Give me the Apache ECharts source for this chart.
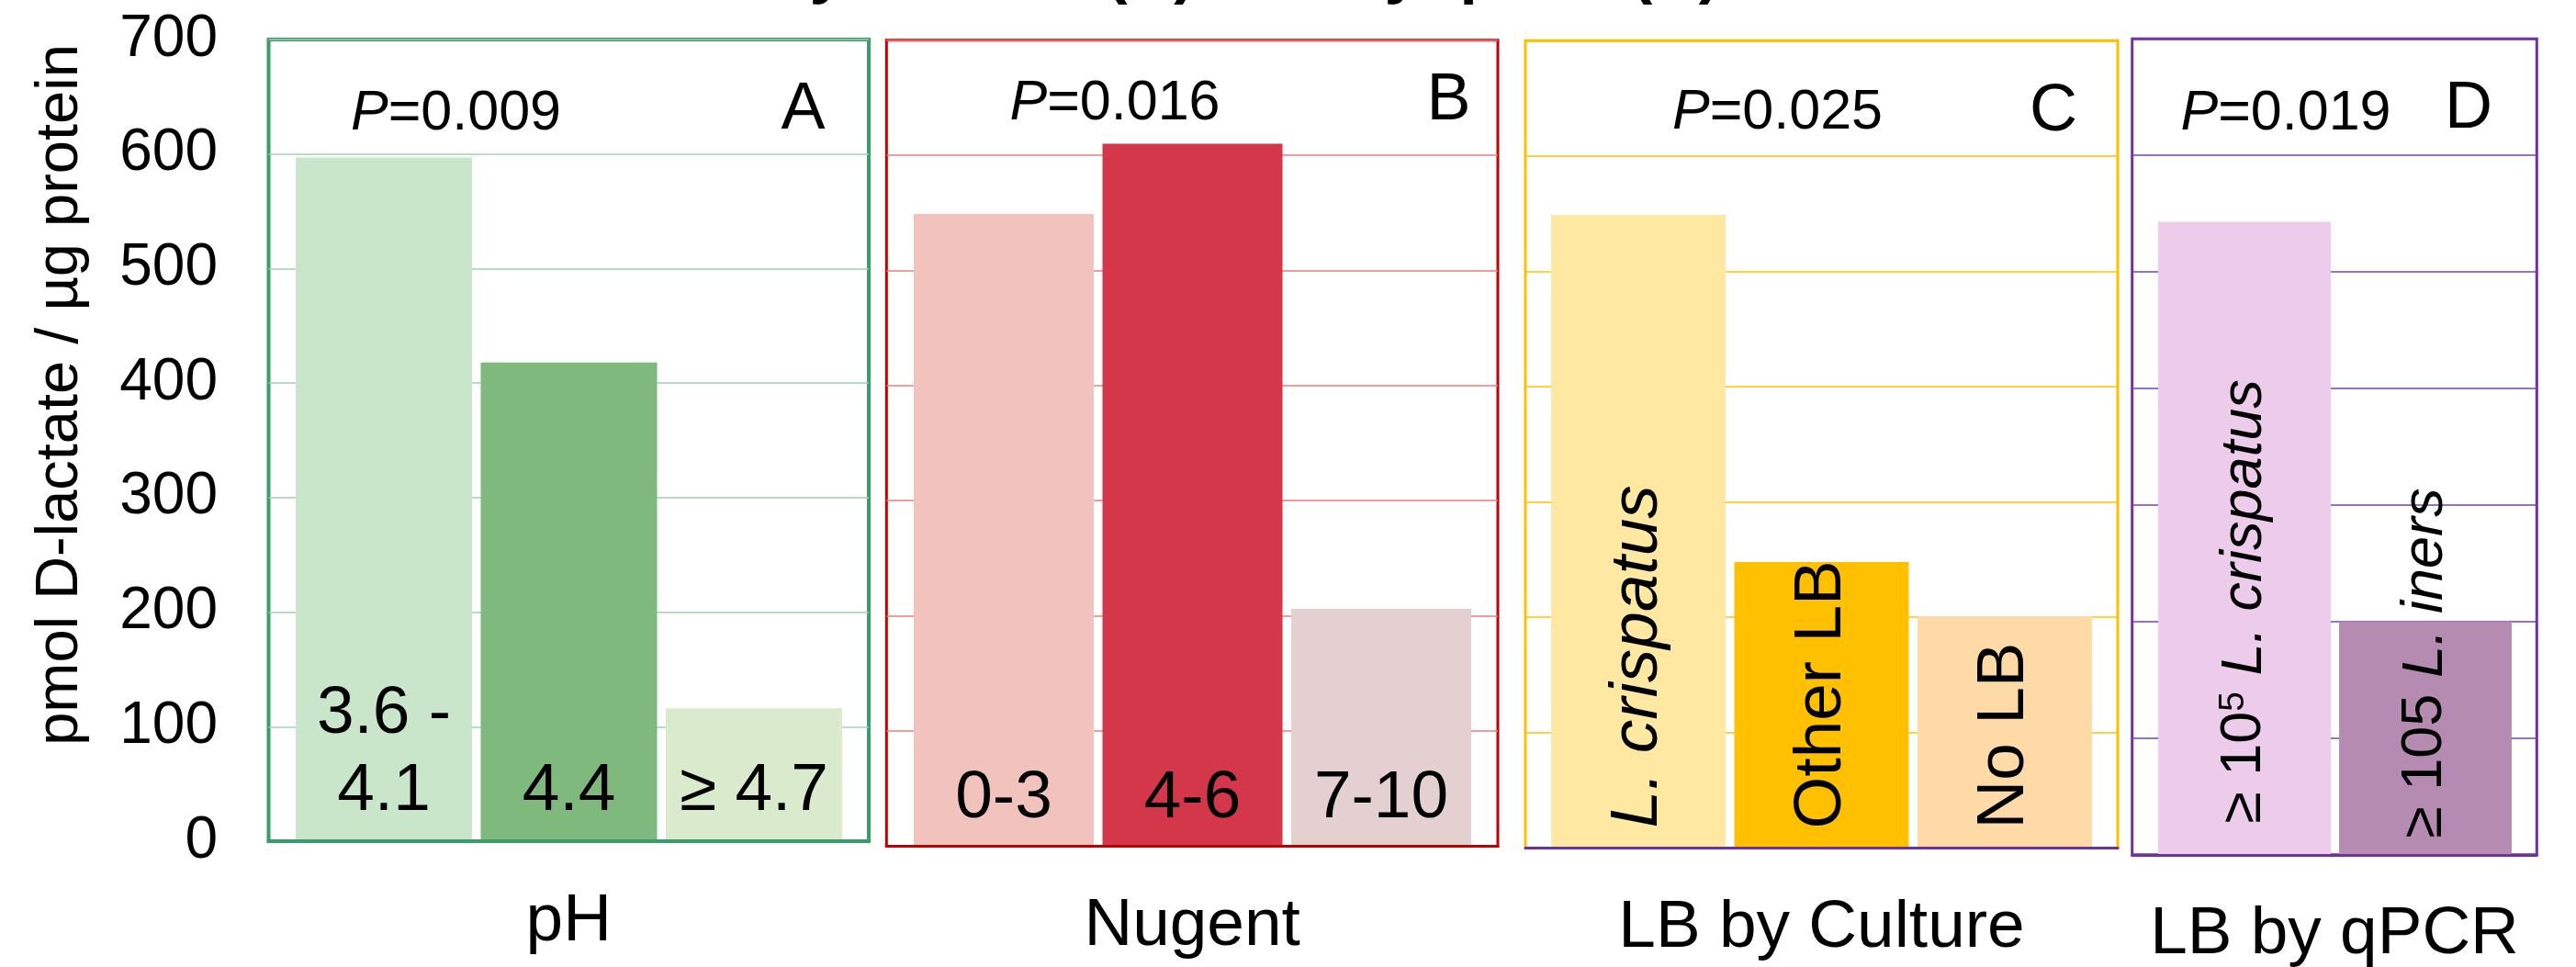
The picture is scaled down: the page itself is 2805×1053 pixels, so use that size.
<!DOCTYPE html>
<html>
<head>
<meta charset="utf-8">
<script src="https://cdn.jsdelivr.net/npm/echarts@6/dist/echarts.min.js"></script>
<style>
html,body{margin:0;padding:0;background:#ffffff;}
#chart{width:2805px;height:1053px;}
</style>
</head>
<body>
<div id="chart"></div>
<script>
// ---------------- DATA ----------------
const yTicks = [0, 100, 200, 300, 400, 500, 600, 700];
const phCategories = ['3.6 -\n4.1', '4.4', '≥ 4.7'];
const phValues = [597, 418, 116];
const nugentCategories = ['0-3', '4-6', '7-10'];
const nugentValues = [549, 610, 206];
const cultureCategories = ['L. crispatus', 'Other LB', 'No LB'];
const cultureValues = [549, 248, 201];
const qpcrCategories = ['≥ 10^5 L. crispatus', '≥ 105 L. iners'];
const qpcrValues = [543, 200];
const axisNames = ['pH', 'Nugent', 'LB by Culture', 'LB by qPCR'];
const pValues = ['0.009', '0.016', '0.025', '0.019'];
const panelLetters = ['A', 'B', 'C', 'D'];
const yAxisTitle = 'pmol D-lactate / µg protein';
const titleText = 'LB by Culture (C) and by qPCR (D)';

// ---------------- LAYOUT / STYLE ----------------
const FONT = '"Liberation Sans", Arial, Helvetica, sans-serif';
const panels = [
  {cats: phCategories, vals: phValues, outer: [292.5, 43, 946, 916], inner: [317.25, 921.75], gap: '4.7%',
   border: '#3b9b6b', borderW: 4, split: '#9fd0b0', bottomLine: '#3b9b6b',
   colors: ['#c9e6cb', '#80b97e', '#d9eacd'], rotated: false, dist: [12, 12, 12]},
  {cats: nugentCategories, vals: nugentValues, outer: [965.3, 43.7, 1631, 921.4], inner: [990.25, 1606.75], gap: '4.6%',
   border: '#c00000', borderW: 3, split: '#ec7b7b', bottomLine: '#c00000',
   colors: ['#f2c3bd', '#d4374a', '#e4d0d0'], rotated: false, dist: [10, 10, 10]},
  {cats: cultureCategories, vals: cultureValues, outer: [1661, 44.3, 2306, 923.4], inner: [1684.25, 2282.75], gap: '4.8%',
   border: '#ffc000', borderW: 3, split: '#ffc000', bottomLine: '#7030a0',
   colors: ['#ffe8a1', '#ffc000', '#fedaa6'], rotated: true, fs: 73, dist: [22, 21, 21]},
  {cats: qpcrCategories, vals: qpcrValues, outer: [2321.7, 42.3, 2762.3, 930.8], inner: [2345.5, 2739.5], gap: '4.6%',
   border: '#7030a0', borderW: 3, split: '#7a3fae', bottomLine: '#7030a0',
   colors: ['#edcbea', '#b58bb2'], rotated: true, fs: 63, dist: [34, 18]}
];
const pPos = [[496.5, 144], [1214, 133], [1935.5, 143], [2489, 144]];
const letterPos = [[874.5, 144], [1577.5, 134], [2236, 146], [2688, 143]];

function richLabel(name) {
  if (name.indexOf('^') >= 0) {
    const m = name.match(/^(.*?)\^(\S+)\s(.*)$/);
    return '{r|' + m[1] + '}{s|' + m[2] + '}{i| ' + m[3] + '}';
  }
  const k = name.indexOf('L. ');
  if (k >= 0) {
    const pre = name.slice(0, k);
    return (pre ? '{r|' + pre + '}' : '') + '{i|' + name.slice(k) + '}';
  }
  return '{r|' + name + '}';
}

const grids = [], xAxes = [], yAxes = [], series = [];
panels.forEach((p, i) => {
  const top = p.outer[1], h = p.outer[3] - p.outer[1];
  grids.push({left: p.outer[0], top: top, width: p.outer[2] - p.outer[0], height: h,
    show: true, borderColor: p.border, borderWidth: p.borderW, backgroundColor: 'transparent',
    containLabel: false, outerBoundsMode: 'none'});
  grids.push({left: p.inner[0], top: top, width: p.inner[1] - p.inner[0], height: h,
    show: false, containLabel: false, outerBoundsMode: 'none'});
  xAxes.push({gridIndex: 2 * i, type: 'category', data: p.cats, z: 5,
    axisLine: {show: true, lineStyle: {color: p.bottomLine, width: p.borderW}},
    axisTick: {show: false}, axisLabel: {show: false}, splitLine: {show: false},
    name: axisNames[i], nameLocation: 'middle', nameGap: 51,
    nameTextStyle: {fontSize: 73, color: '#000', fontFamily: FONT}});
  xAxes.push({gridIndex: 2 * i + 1, type: 'category', data: p.cats, show: false});
  const yBase = {min: yTicks[0], max: yTicks[yTicks.length - 1], interval: yTicks[1] - yTicks[0], type: 'value'};
  yAxes.push(Object.assign({gridIndex: 2 * i,
    axisLine: {show: false}, axisTick: {show: false},
    axisLabel: {show: i === 0, fontSize: 64, color: '#000', fontFamily: FONT, margin: 55.5},
    splitLine: {show: true, lineStyle: {color: p.split, width: 1.5}}}, yBase));
  yAxes.push(Object.assign({gridIndex: 2 * i + 1, show: false, splitLine: {show: false}}, yBase));

  const label = p.rotated ? {
    show: true, position: 'insideBottom', rotate: 90, align: 'left', verticalAlign: 'middle',
    color: '#000', fontFamily: FONT, fontSize: p.fs,
    formatter: (prm) => richLabel(prm.name),
    rich: {
      r: {fontSize: p.fs, fontFamily: FONT, color: '#000'},
      i: {fontSize: p.fs, fontFamily: FONT, fontStyle: 'italic', color: '#000'},
      s: {fontSize: Math.round(p.fs * 0.62), fontFamily: FONT, color: '#000', verticalAlign: 'top'}
    }
  } : {
    show: true, position: 'insideBottom', color: '#000', fontFamily: FONT, fontSize: 73, lineHeight: 84,
    formatter: (prm) => prm.name
  };
  series.push({
    type: 'bar', xAxisIndex: 2 * i + 1, yAxisIndex: 2 * i + 1,
    barCategoryGap: p.gap, label: label,
    data: p.vals.map((v, j) => ({value: v, itemStyle: {color: p.colors[j]}, label: {distance: p.dist[j]}}))
  });
});

const graphics = [];
graphics.push({type: 'text', x: 66.5, y: 430, rotation: Math.PI / 2,
  style: {text: yAxisTitle, fontSize: 65, fontFamily: FONT, fill: '#000', align: 'center', verticalAlign: 'middle'}});
graphics.push({type: 'text', x: 726, y: -6 - 0.33 * 70,
  style: {text: titleText, fontSize: 70, fontWeight: 'bold', fontFamily: FONT, fill: '#000', align: 'left', verticalAlign: 'middle'}});
pValues.forEach((pv, i) => {
  graphics.push({type: 'text', x: pPos[i][0], y: pPos[i][1] - 0.33 * 61,
    style: {text: '{i|P}{n|=' + pv + '}', fill: '#000', align: 'center', verticalAlign: 'middle',
      fontSize: 61, fontFamily: FONT,
      rich: {i: {fontSize: 61, fontFamily: FONT, fontStyle: 'italic', fill: '#000'},
             n: {fontSize: 61, fontFamily: FONT, fill: '#000'}}}});
  graphics.push({type: 'text', x: letterPos[i][0], y: letterPos[i][1] - 0.33 * 72,
    style: {text: panelLetters[i], fill: '#000', align: 'center', verticalAlign: 'middle',
      fontSize: 72, fontFamily: FONT}});
});

const chart = echarts.init(document.getElementById('chart'), null, {renderer: 'canvas'});
chart.setOption({
  animation: false,
  backgroundColor: '#ffffff',
  grid: grids, xAxis: xAxes, yAxis: yAxes, series: series,
  graphic: graphics
});
</script>
</body>
</html>
